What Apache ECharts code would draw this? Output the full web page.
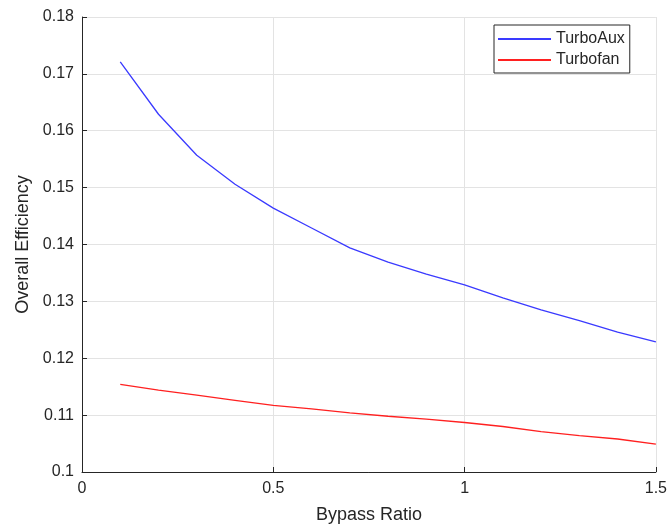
<!DOCTYPE html>
<html>
<head>
<meta charset="utf-8">
<script src="https://cdn.jsdelivr.net/npm/echarts@6/dist/echarts.min.js"></script>
<style>
  html, body { margin: 0; padding: 0; background: #fff; }
  #chart { width: 670px; height: 530px; }
</style>
</head>
<body>
<div id="chart"></div>
<script>
// x 轴：涵道比
var bypassRatio = [0.1, 0.2, 0.3, 0.4, 0.5, 0.6, 0.7, 0.8, 0.9, 1.0, 1.1, 1.2, 1.3, 1.4, 1.5]
// 两条曲线的总效率
var turboAux = [0.1721, 0.1629, 0.1557, 0.1506, 0.1464, 0.1429, 0.1394, 0.1369, 0.1348, 0.1329, 0.1306, 0.1285, 0.1266, 0.1246, 0.1229]
var turbofan = [0.1154, 0.1144, 0.1135, 0.1126, 0.1117, 0.1111, 0.1104, 0.1098, 0.1093, 0.1087, 0.1080, 0.1071, 0.1064, 0.1058, 0.1049]

function pairs (ys) {
  return bypassRatio.map(function (x, i) { return [x, ys[i]] })
}

var font = 'Liberation Sans, Arial, Helvetica, sans-serif'
var axisColor = '#262626'
var gridColor = '#e3e3e3'

var chart = echarts.init(document.getElementById('chart'), null, { renderer: 'canvas' })
chart.setOption({
  animation: false,
  backgroundColor: '#fff',
  grid: { left: 82, right: 13, top: 17, bottom: 58 },
  legend: {
    orient: 'vertical',
    left: 494,
    top: 25,
    padding: [5, 5, 4, 4],
    itemGap: 3,
    itemWidth: 53,
    itemHeight: 2,
    icon: 'rect',
    borderColor: axisColor,
    borderWidth: 1,
    backgroundColor: '#fff',
    textStyle: { fontFamily: font, fontSize: 16, color: axisColor, lineHeight: 18 },
    data: ['TurboAux', 'Turbofan']
  },
  xAxis: {
    type: 'value',
    min: 0,
    max: 1.5,
    interval: 0.5,
    name: 'Bypass Ratio',
    nameLocation: 'middle',
    nameGap: 34,
    nameTextStyle: { fontFamily: font, fontSize: 18, color: axisColor },
    axisLine: { show: true, onZero: false, lineStyle: { color: axisColor, width: 1 } },
    axisTick: { show: true, inside: true, length: 5, lineStyle: { color: axisColor } },
    axisLabel: { fontFamily: font, fontSize: 16, color: axisColor, margin: 9 },
    splitLine: { show: true, lineStyle: { color: gridColor, width: 1 } }
  },
  yAxis: {
    type: 'value',
    min: 0.1,
    max: 0.18,
    interval: 0.01,
    name: 'Overall Efficiency',
    nameLocation: 'middle',
    nameGap: 49,
    nameTextStyle: { fontFamily: font, fontSize: 18, color: axisColor },
    axisLine: { show: true, onZero: false, lineStyle: { color: axisColor, width: 1 } },
    axisTick: { show: true, inside: true, length: 5, lineStyle: { color: axisColor } },
    axisLabel: {
      fontFamily: font,
      fontSize: 16,
      color: axisColor,
      margin: 8,
      formatter: function (v) { return String(+v.toFixed(2)) }
    },
    splitLine: { show: true, lineStyle: { color: gridColor, width: 1 } }
  },
  series: [
    {
      name: 'TurboAux',
      type: 'line',
      data: pairs(turboAux),
      symbol: 'none',
      color: '#3a3aff',
      lineStyle: { width: 1.3, color: '#3a3aff' }
    },
    {
      name: 'Turbofan',
      type: 'line',
      data: pairs(turbofan),
      symbol: 'none',
      color: '#ff2020',
      lineStyle: { width: 1.3, color: '#ff2020' }
    }
  ]
})
</script>
</body>
</html>
